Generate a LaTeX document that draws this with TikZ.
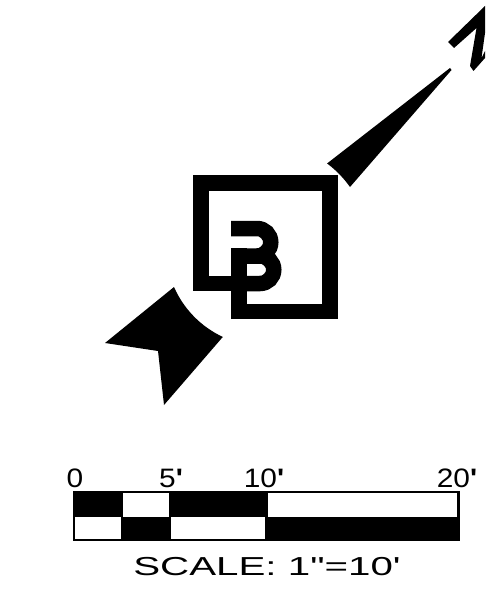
\documentclass[tikz,border=0pt]{standalone}
\usepackage{fontspec}
\newfontfamily\labelfont{Liberation Sans}
\tikzset{
  inkstroke/.style={draw=black,line width=15.5*0.75pt,line join=miter},
  scalelabel/.style={inner sep=0pt,font=\labelfont\fontsize{20}{22}\selectfont,anchor=base,xscale=1.12},
  captionlabel/.style={inner sep=0pt,font=\labelfont\fontsize{19.5}{22}\selectfont,anchor=base,xscale=1.55},
}
\newcommand{\primemark}{{\labelfont\bfseries '}}
\begin{document}
\begin{tikzpicture}[x=0.75pt,y=-0.75pt]
\useasboundingbox (0,0) rectangle (485,599);
\clip (0,0) rectangle (485,599);
% north arrow
\fill[black] (450,68) -- (451.5,70)
  -- (350,187) arc[start angle=-35.2,end angle=-53.2,radius=105] -- cycle;
% south arrow
\fill[black] (174,287) arc[start angle=156.3,end angle=115,radius=99] -- (164,405) -- (158,351) -- (105,343) -- cycle;
% N
\fill[black] (448,42) -- (485,6) -- (485,33) -- (481.5,58) -- (485,51) -- (485,58) -- (473.5,71) -- (470,66) -- (476.5,28) -- (454,48) -- cycle;
% B monogram
\draw[inkstroke] (239,311.5) -- (330,311.5) -- (330,183) -- (201,183) -- (201,283.5) -- (239,283.5);
\draw[inkstroke] (239,319) -- (239,248);
\draw[inkstroke] (231,228.5) -- (257,228.5) arc[start angle=-90,end angle=90,radius=13.75] -- (239,256);
\draw[inkstroke] (257,256) -- (260,256) arc[start angle=-90,end angle=90,radius=13.75] -- (239,283.5);
% scale bar
\fill[black] (73,491) rectangle (123,516.5);
\fill[black] (169,491) rectangle (268,516.5);
\fill[black] (121,516.5) rectangle (171,541);
\fill[black] (265,516.5) rectangle (459,541);
\draw[black,line width=1.8pt] (74,492) rectangle (458.5,540);
% labels
\node[scalelabel] (s0) at (75,487.5) {0};
\node[scalelabel] (s5) at (171,487.5) {5\primemark};
\node[scalelabel] (s10) at (264,487.5) {10\primemark};
\node[scalelabel] (s20) at (457,487.5) {20\primemark};
\node[captionlabel] (cap) at (267,575) {SCALE: 1"=10'};
\end{tikzpicture}
\end{document}
